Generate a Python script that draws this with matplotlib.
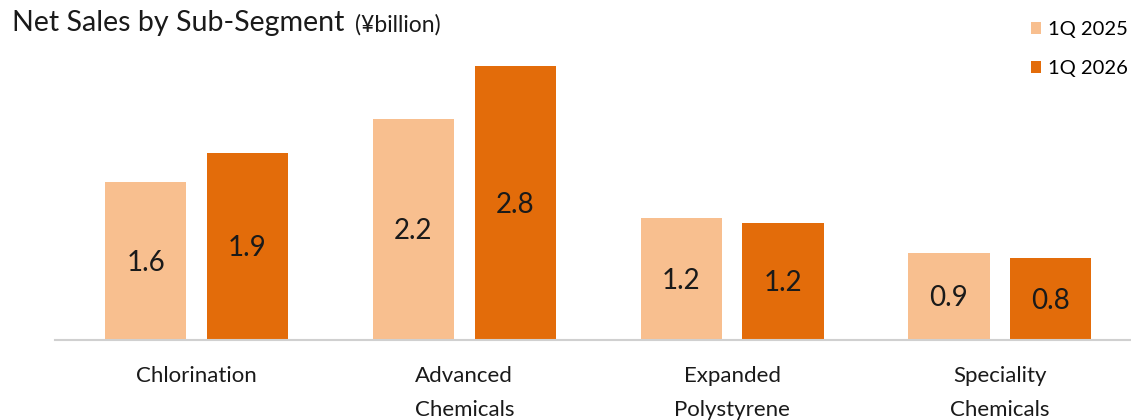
import matplotlib.pyplot as plt
import numpy as np

plt.rcParams['font.family'] = ['Lato', 'DejaVu Sans']

categories = ["Chlorination", "Advanced\nChemicals", "Expanded\nPolystyrene", "Speciality\nChemicals"]
series_names = ["1Q 2025", "1Q 2026"]
sales_2025 = [1.60, 2.24, 1.23, 0.88]
sales_2026 = [1.89, 2.77, 1.18, 0.83]

light = "#F8BF8F"
dark = "#E36C0A"

fig = plt.figure(figsize=(11.31, 4.2), dpi=100)
ax = fig.add_axes([55 / 1131, 80.5 / 420, 1076 / 1131, 295.8 / 420])

x = np.arange(len(categories))
width = 0.303
offset = 0.19
b1 = ax.bar(x - offset, sales_2025, width, color=light, label=series_names[0])
b2 = ax.bar(x + offset, sales_2026, width, color=dark, label=series_names[1])

for bars in (b1, b2):
    for rect in bars:
        h = rect.get_height()
        ax.text(rect.get_x() + rect.get_width() / 2, h / 2 - 0.02, f"{h:.1f}",
                ha="center", va="center", fontsize=20, color="#1a1a1a")

ax.set_xlim(-0.529, 3.49)
ax.set_ylim(0, 3.0)
ax.set_yticks([])
ax.set_xticks(x)
ax.set_xticklabels(categories, fontsize=16, linespacing=1.9, va="top", color="#1a1a1a")
ax.tick_params(axis="x", length=0, pad=19)
for side in ("top", "right", "left"):
    ax.spines[side].set_visible(False)
ax.spines["bottom"].set_color("#d0d0d0")
ax.spines["bottom"].set_linewidth(1.5)

fig.text(12 / 1131, 1 - 23 / 420, "Net Sales by Sub-Segment", fontsize=20.6,
         va="center", ha="left", color="#1a1a1a")
fig.text(355 / 1131, 1 - 25 / 420, "(¥billion)", fontsize=16.5,
         va="center", ha="left", color="#1a1a1a")

fig.legend(handles=[b1, b2], labels=series_names, loc="upper right",
           bbox_to_anchor=(1128 / 1131, 1 - 21 / 420), frameon=False, fontsize=14.5,
           handlelength=0.5, handleheight=0.5, handletextpad=0.35,
           labelspacing=1.1, borderpad=0, borderaxespad=0)

fig.savefig("out.png", dpi=100)
